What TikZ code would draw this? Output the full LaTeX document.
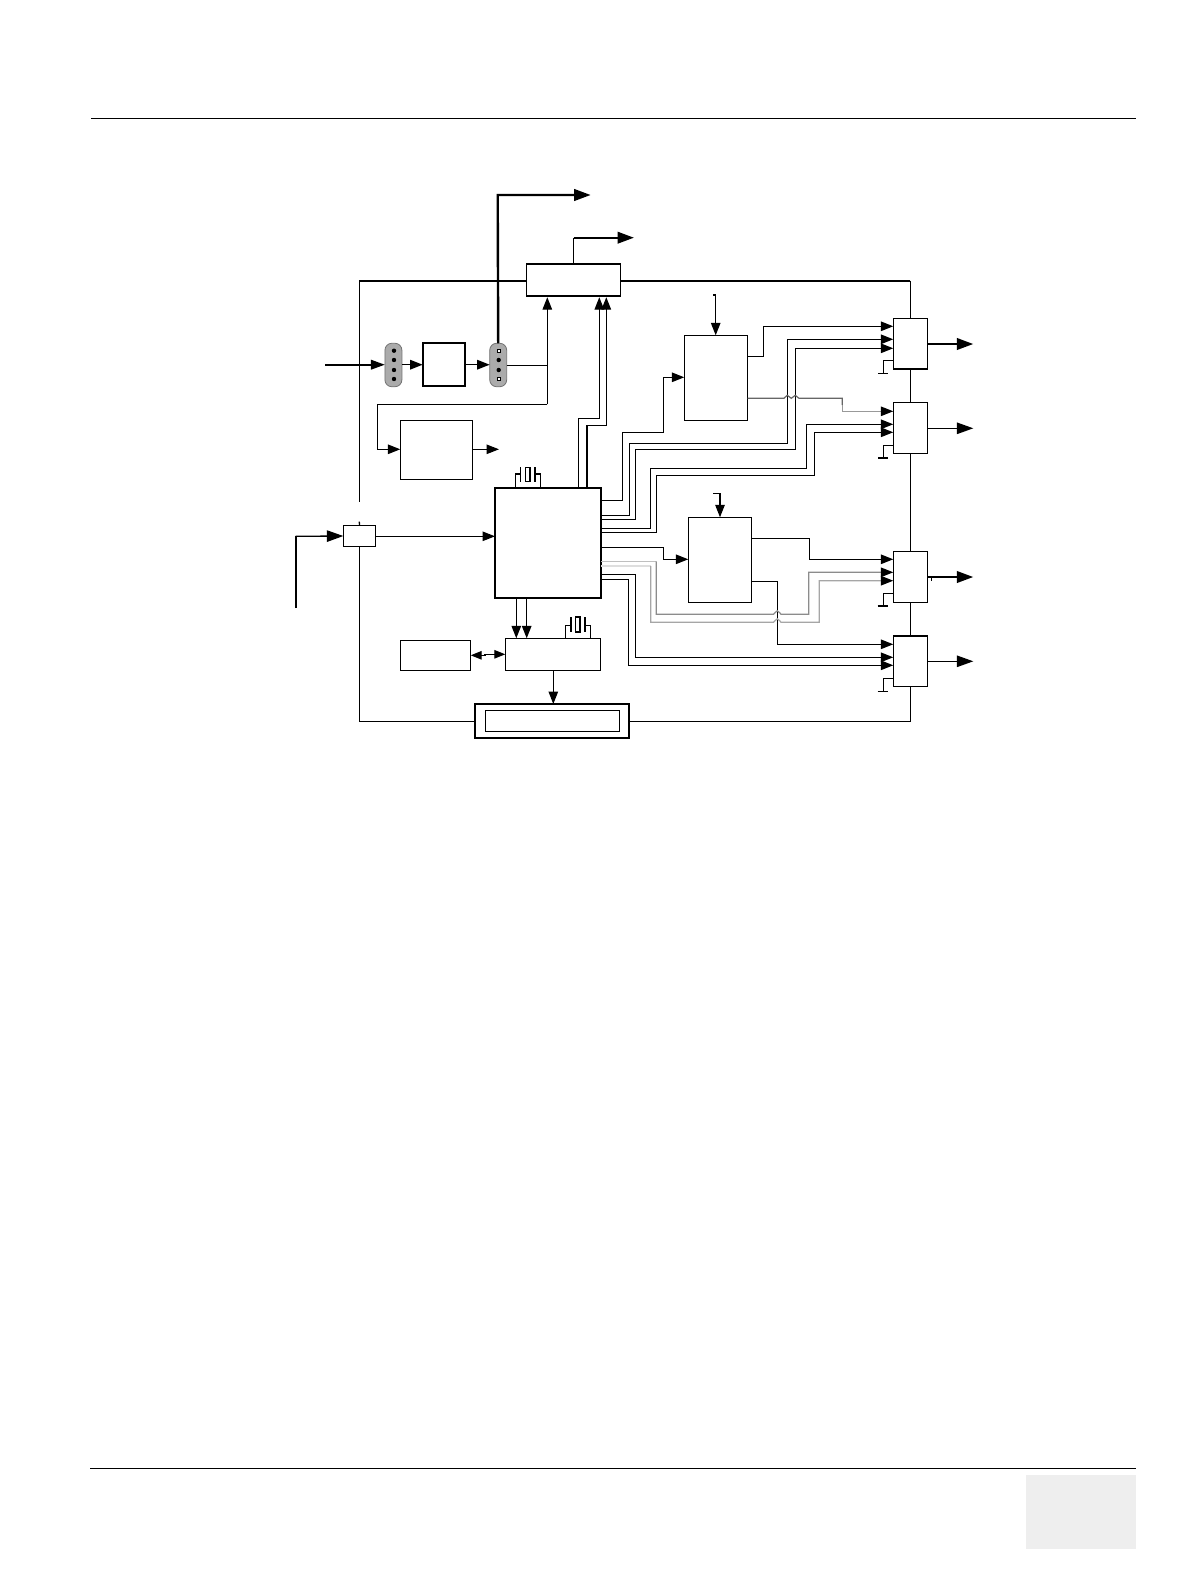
\documentclass[tikz,border=0pt]{standalone}
\usetikzlibrary{arrows.meta,calc}
\definecolor{pillgrey}{HTML}{ABABAB}
\definecolor{pagegrey}{HTML}{EEEEEE}
\definecolor{wiregrey}{HTML}{8C8C8C}
\tikzset{
  blk/.style={draw=black,fill=white,line width=1.3pt,inner sep=0pt,outer sep=0pt,rectangle},
  heavy/.style={blk,line width=2.2pt},
  pill/.style={draw=black!55,fill=pillgrey,line width=0.8pt,rounded corners=7pt,inner sep=0pt,outer sep=0pt,minimum width=17pt,minimum height=43.5pt},
  dot/.style={circle,fill=black,inner sep=0pt,outer sep=0pt,minimum size=4.4pt},
  hdot/.style={rectangle,draw=black,fill=white,line width=1.2pt,inner sep=0pt,outer sep=0pt,minimum size=2.8pt},
  wire/.style={line width=1.3pt,draw=black},
  bus/.style={line width=2.4pt,draw=black},
  gwire/.style={line width=1.2pt,draw=wiregrey},
  arr/.style={-{Triangle[length=12.5pt,width=9.5pt,black]}},
  barr/.style={-{Triangle[length=16.5pt,width=11.5pt,black]}},
  rule/.style={line width=1.3pt,draw=black},
  plate/.style={line width=1.2pt,draw=black},
}
\begin{document}
\begin{tikzpicture}[x=1pt,y=-1pt]
\useasboundingbox (0,0) rectangle (1190,1584);
\fill[white] (0,0) rectangle (1190,1584);
% page furniture
\draw[rule] (91,118.3) -- (1136,118.3);
\draw[rule] (90,1468.3) -- (1136,1468.3);
\fill[pagegrey] (1026,1475) rectangle (1136,1549);
% blocks
\node[blk,minimum width=94.4pt,minimum height=32pt] (top) at (573.5,280) {};
\node[pill] (pa) at (393.4,365) {};
\node[heavy,line width=1.8pt,minimum width=42.6pt,minimum height=43pt] (amp) at (444,364.8) {};
\node[pill] (pb) at (498.2,365) {};
\node[blk,minimum width=72.4pt,minimum height=59pt] (ps) at (436.5,449.8) {};
\node[heavy,minimum width=106pt,minimum height=110pt] (main) at (548,542.7) {};
\node[blk,minimum width=32.4pt,minimum height=21.4pt] (sw) at (359.5,536) {};
\node[blk,minimum width=95pt,minimum height=32pt] (ctl) at (552.8,654.3) {};
\node[blk,minimum width=70.4pt,minimum height=30pt] (mem) at (435.5,655.3) {};
\node[heavy,minimum width=154.6pt,minimum height=34pt] (disp) at (552,721) {};
\node[blk,minimum width=134pt,minimum height=21pt] (dispin) at (552.3,720.8) {};
\node[blk,minimum width=63.4pt,minimum height=85pt] (dc) at (716,377.8) {};
\node[blk,minimum width=63.4pt,minimum height=85pt] (dd) at (720,559.8) {};
\node[blk,minimum width=34pt,minimum height=50.7pt] (ma) at (910.3,343.7) {};
\node[blk,minimum width=34pt,minimum height=51pt] (mb) at (910.3,427.8) {};
\node[blk,minimum width=34pt,minimum height=51pt] (mc) at (910.3,576.8) {};
\node[blk,minimum width=34pt,minimum height=50.6pt] (md) at (910.3,661) {};
\coordinate (fromtop) at (359.3,501.7);
\coordinate (stub) at (359.3,521.7);
% heavy edges
\draw[line width=2.4pt] (top.south west) -- (top.south east);
\draw[line width=2.4pt] (ma.south west) -- (ma.south east);
\draw[line width=2.4pt] (md.north west) -- (md.north east);
% pill contacts
\node[dot] (a1) at (394,350.7) {};
\node[dot] (a2) at (394,360) {};
\node[dot] (a3) at (394,370) {};
\node[dot] (a4) at (394,379) {};
\node[hdot] (b1) at (498.7,350.7) {};
\node[dot] (b2) at (498.7,360) {};
\node[dot] (b3) at (498.7,370) {};
\node[hdot] (b4) at (498.7,379) {};
% power rail
\draw[line width=2pt] (top.west |- 0,280.7) -- (fromtop |- 0,280.7);
\draw[wire] (fromtop |- 0,280.7) -- (fromtop);
\draw[wire] (stub) -- (sw.north);
\draw[line width=2pt] (top.east |- 0,280.7) -- (ma.north |- 0,280.7);
\draw[wire] (ma.north |- 0,280.7) -- (ma.north);
\draw[wire] (ma.south) -- (mb.north);
\draw[wire] (mb.south) -- (mc.north);
\draw[wire] (mc.south) -- (md.north);
\draw[wire] (md.south) |- (disp.east |- 0,721.3);
\draw[wire] (disp.west |- 0,721.3) -| (sw.south);
% top outputs
\draw[bus,barr] (pb.north) -- (497.7,195) -- (590.7,195);
\draw[wire,line width=1.6pt] (top.north) -- (573.5,237.7);
\draw[bus,barr] (573.5,237.7) -- (634,237.7);
% chain
\draw[bus,line width=2pt,-{Triangle[length=14pt,width=9.5pt]}] (325,364.7) -- (pa.west |- 0,364.7);
\draw[wire,arr] (pa.east |- 0,364.7) -- (amp.west |- 0,364.7);
\draw[wire,arr] (amp.east |- 0,364.7) -- (pb.west |- 0,364.7);
\draw[wire] (pb.east |- 0,365.3) -- (547.3,365.3);
\draw[wire,arr] (547.3,404.3) -- (547.3 ,297.2);
\draw[wire,arr] (547.3,404.3) -- (377.3,404.3) -- (377.3,449.3) -- (ps.west |- 0,449.3);
\draw[wire,arr] (ps.east |- 0,449.3) -- (499,449.3);
% main to top box
\draw[wire,arr] (578.3,0 |- main.north) -- (578.3,418.3) -- (599.3,418.3) -- (599.3,297.2);
\draw[wire,arr] (587,0 |- main.north) -- (587,425.7) -- (606.3,425.7) -- (606.3,297.2);
% input
\draw[bus,line width=2pt] (295.7,608) -- (295.7,536.3);
\draw[wire,barr] (295.7,536.3) -- (sw.west);
\draw[wire,arr] (sw.east |- 0,536.3) -- (main.west |- 0,536.3);
% main down
\draw[wire,arr] (516.3,0 |- main.south) -- (516.3,0 |- ctl.north);
\draw[wire,arr] (526.7,0 |- main.south) -- (526.7,0 |- ctl.north);
\draw[wire,{Triangle[length=11pt,width=8.5pt]}-{Triangle[length=11pt,width=8.5pt]}] (mem.east |- 0,655.3) -- (485,655.3) -- (485,654.3) -- (ctl.west |- 0,654.3);
\draw[wire,arr] (ctl.south -| 553.3,0) -- (553.3,0 |- disp.north);
% crystals
\draw[wire,line width=1.1pt] (515.3,0 |- main.north) -- (515.3,474) -- (520.7,474);
\draw[wire,line width=1.1pt] (540.3,0 |- main.north) -- (540.3,474) -- (535,474);
\draw[plate] (520.7,467.3) -- (520.7,481.7);
\draw[plate] (535,467.3) -- (535,481.7);
\draw[plate,fill=white] (525.3,467.3) rectangle (530,481.7);
\draw[wire,line width=1.1pt] (565.7,0 |- ctl.north) -- (565.7,625.3) -- (571,625.3);
\draw[wire,line width=1.1pt] (590.3,0 |- ctl.north) -- (590.3,625.3) -- (585,625.3);
\draw[plate] (571,617) -- (571,632);
\draw[plate,line width=1.8pt] (585,617) -- (585,632);
\draw[plate,fill=white] (575.7,617) rectangle (580,632);
% feeds to upper blocks
\draw[wire,arr] (715.7,295) -- (dc.north -| 715.7,0);
\draw[wire,line width=1.1pt] (713,295) -- (715.7,295);
\draw[wire,arr] (720,493.3) -- (dd.north -| 720,0);
\draw[wire] (713.3,493.3) -- (720,493.3);
% main to dc / dd
\draw[wire,arr] (main.east |- 0,500.3) -- (622.7,500.3) -- (622.7,432.3) -- (663.3,432.3) -- (663.3,377.3) -- (dc.west |- 0,377.3);
\draw[wire,arr] (main.east |- 0,547.3) -- (663.7,547.3) -- (663.7,559.3) -- (dd.west |- 0,559.3);
% main to mux a, b
\draw[wire,arr] (main.east |- 0,515.3) -- (629.7,515.3) -- (629.7,443.3) -- (787.3,443.3) -- (787.3,339.3) -- (ma.west |- 0,339.3);
\draw[wire,arr] (main.east |- 0,519.3) -- (635.3,519.3) -- (635.3,449.3) -- (795.3,449.3) -- (795.3,348.3) -- (ma.west |- 0,348.3);
\draw[wire,arr] (main.east |- 0,528.3) -- (650.7,528.3) -- (650.7,468.3) -- (806.3,468.3) -- (806.3,424.3) -- (mb.west |- 0,424.3);
\draw[wire,arr] (main.east |- 0,532.3) -- (656.3,532.3) -- (656.3,475.3) -- (814.3,475.3) -- (814.3,432.3) -- (mb.west |- 0,432.3);
% dc outputs
\draw[wire,arr] (dc.east |- 0,356.3) -- (763.7,356.3) -- (763.7,326.3) -- (ma.west |- 0,326.3);
\draw[gwire,draw=black!60] (dc.east |- 0,398.3) -- (784,398.3)
  .. controls (785.5,398.3) and (785.5,395.3) .. (787.3,395.3)
  .. controls (789.1,395.3) and (789.5,398.3) .. (791.3,398.3)
  .. controls (793,398.3) and (793.5,395.3) .. (795.3,395.3)
  .. controls (797.1,395.3) and (797,398.3) .. (799,398.3)
  -- (842.3,398.3) -- (842.3,405);
\draw[gwire,draw=black!40,arr] (842.3,405) -- (842.3,411.3) -- (mb.west |- 0,411.3);
% dd outputs
\draw[wire,arr] (dd.east |- 0,538.3) -- (809.7,538.3) -- (809.7,559.3) -- (mc.west |- 0,559.3);
\draw[wire,arr] (dd.east |- 0,581.3) -- (777.3,581.3) -- (777.3,644.3) -- (md.west |- 0,644.3);
% grey buses to mux c
\draw[gwire,line width=0.9pt,draw=black!25] (main.east |- 0,561.3) -- (656.3,561.3);
\draw[gwire,line width=1.8pt,draw=black!13] (main.east |- 0,566) -- (650.7,566);
\draw[gwire,arr] (656.3,561.3) -- (656.3,614.3) -- (773.5,614.3)
  .. controls (775,614.3) and (775,610.8) .. (777.3,610.8)
  .. controls (779.6,610.8) and (779.6,614.3) .. (781.1,614.3)
  -- (808.7,614.3) -- (808.7,572.3) -- (mc.west |- 0,572.3);
\draw[gwire,draw=black!35,arr] (650.7,566) -- (650.7,622.3) -- (773.5,622.3)
  .. controls (775,622.3) and (775,618.8) .. (777.3,618.8)
  .. controls (779.6,618.8) and (779.6,622.3) .. (781.1,622.3)
  -- (819.3,622.3) -- (819.3,580.7) -- (mc.west |- 0,580.7);
% main to mux d
\draw[wire,arr] (main.east |- 0,574.3) -- (635.3,574.3) -- (635.3,657.3) -- (md.west |- 0,657.3);
\draw[wire,arr] (main.east |- 0,579.3) -- (628.7,579.3) -- (628.7,665.3) -- (md.west |- 0,665.3);
% grounds
\draw[wire] (ma.west |- 0,360.3) -- (883.3,360.3) -- (883.3,373.3);
\draw[wire] (878.3,373.3) -- (887.7,373.3);
\draw[wire] (mb.west |- 0,445.3) -- (883.3,445.3) -- (883.3,457.7);
\draw[line width=2pt] (878.3,457.7) -- (887.7,457.7);
\draw[wire] (mc.west |- 0,593.3) -- (883.3,593.3) -- (883.3,606);
\draw[wire] (877.7,606) -- (887.7,606);
\draw[wire] (md.west |- 0,678.3) -- (883.3,678.3) -- (883.3,691.3);
\draw[wire] (877.7,691.3) -- (887.7,691.3);
% outputs
\draw[bus,barr] (ma.east |- 0,344) -- (973.3,344);
\draw[wire,barr] (mb.east |- 0,428.3) -- (973.3,428.3);
\draw[bus,barr] (mc.east |- 0,577) -- (973.3,577);
\draw[wire,line width=0.8pt] (931.7,577) -- (931.7,580.7);
\draw[wire,barr] (md.east |- 0,661.3) -- (973.3,661.3);
\end{tikzpicture}
\end{document}
